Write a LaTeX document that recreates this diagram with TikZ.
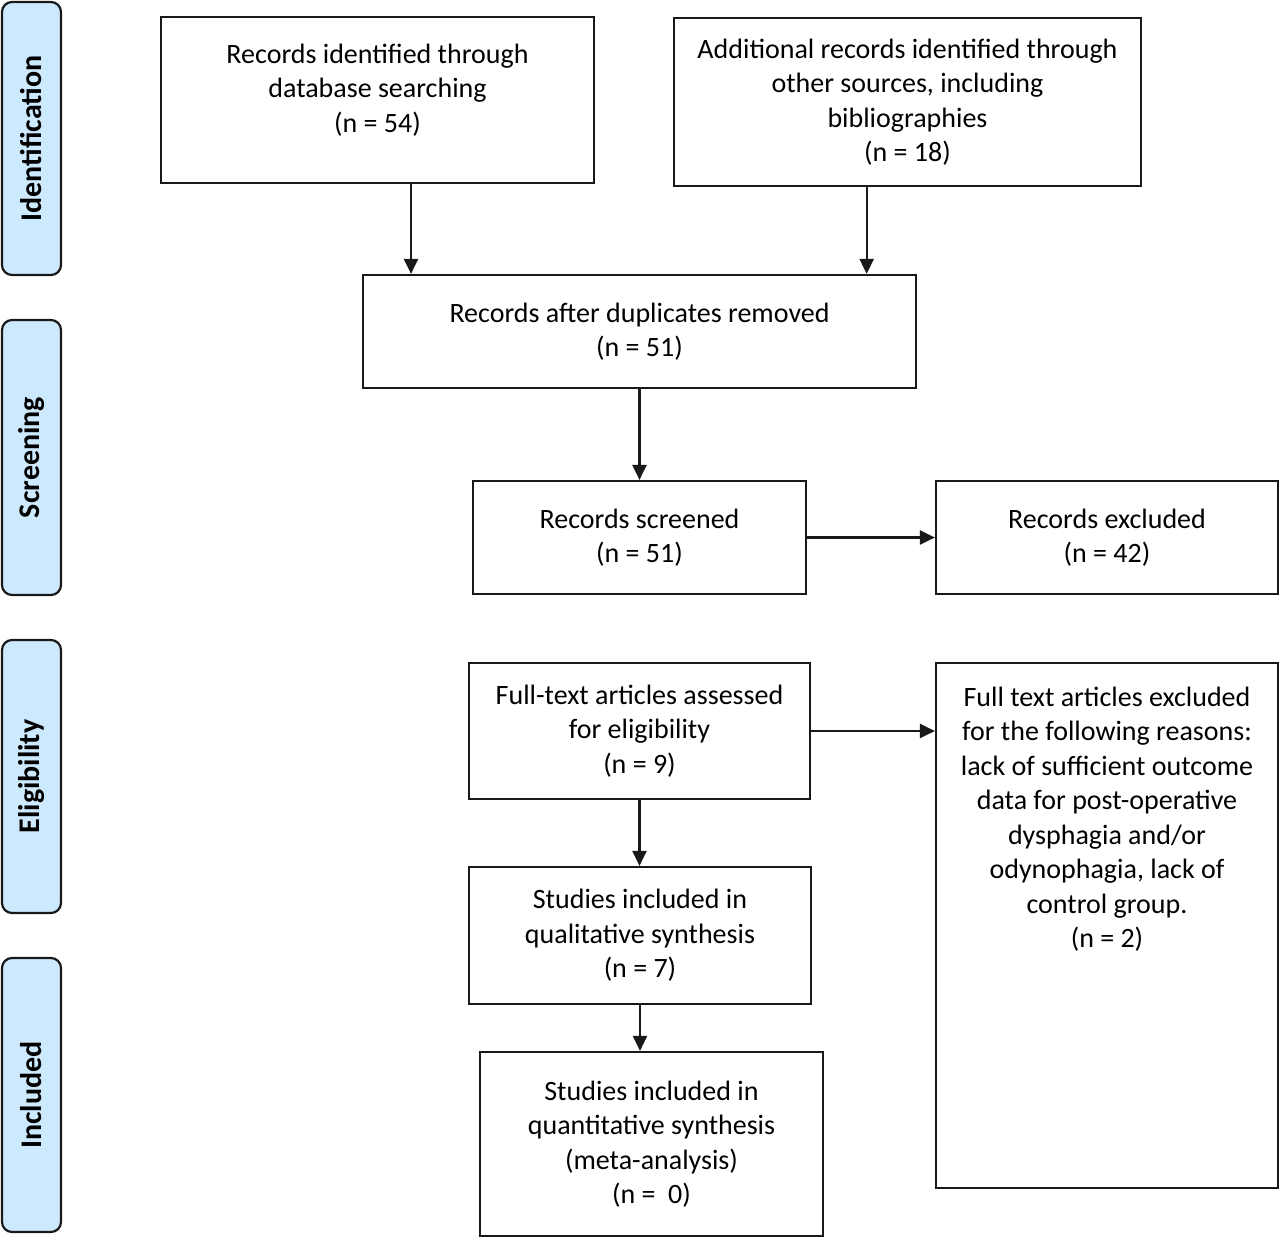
\documentclass[tikz,border=0pt]{standalone}
\usepackage{fontspec}
\setmainfont{Carlito}
\usetikzlibrary{arrows.meta,calc}
\definecolor{stageblue}{RGB}{205,233,253}
\definecolor{linegray}{RGB}{25,25,25}
\begin{document}
\begin{tikzpicture}[x=1pt,y=-1pt,
  box/.style={draw=linegray, line width=2.2pt, fill=white, inner sep=0pt, align=center,
    font=\fontsize{28}{34.5}\selectfont},
  txt/.style={inner sep=0pt, align=center, font=\fontsize{28}{34.5}\selectfont},
  stage/.style={draw=linegray, line width=2.2pt, fill=stageblue, rounded corners=10pt,
    rotate=90, inner sep=0pt, minimum height=59pt, font=\fontsize{30}{34}\selectfont\bfseries},
  arr/.style={draw=linegray, line width=2.2pt, -{Triangle[length=15pt,width=14pt]}}]
\useasboundingbox (0,0) rectangle (1280,1237);

% stage labels
\node[stage, minimum width=273pt] (s1) at (31.5,138.5) {Identification};
\node[stage, minimum width=275pt] (s2) at (31.5,457.5) {Screening};
\node[stage, minimum width=273pt] (s3) at (31.5,776.5) {Eligibility};
\node[stage, minimum width=274pt] (s4) at (31.5,1095) {Included};

% boxes
\node[box, minimum width=433pt, minimum height=166pt] (A) at (377.5,100) {};
\node[txt] (At) at (377.5,90) {Records identified through\\database searching\\(n = 54)};
\node[box, minimum width=467pt, minimum height=168pt] (B) at (907.5,102)
  {Additional records identified through\\other sources, including\\bibliographies\\(n = 18)};
\node[box, minimum width=553pt, minimum height=113pt] (C) at (639.5,331.5)
  {Records after duplicates removed\\(n = 51)};
\node[box, minimum width=333pt, minimum height=113pt] (D) at (639.5,537.5)
  {Records screened\\(n = 51)};
\node[box, minimum width=342pt, minimum height=113pt] (E) at (1107,537.5)
  {Records excluded\\(n = 42)};
\node[box, minimum width=341pt, minimum height=136pt] (F) at (639.5,731)
  {Full-text articles assessed\\for eligibility\\(n = 9)};
\node[box, minimum width=342pt, minimum height=525pt] (G) at (1107,925.5) {};
\node[txt] (Gt) at (1107,819) {Full text articles excluded\\for the following reasons:\\lack of sufficient outcome\\data for post-operative\\dysphagia and/or\\odynophagia, lack of\\control group.\\(n = 2)};
\node[box, minimum width=342pt, minimum height=137pt] (H) at (640,935.5)
  {Studies included in\\qualitative synthesis\\(n = 7)};
\node[box, minimum width=343pt, minimum height=184pt] (I) at (651.5,1144)
  {Studies included in\\quantitative synthesis\\(meta-analysis)\\(n = \ 0)};

% connectors
\coordinate (a1) at ($(A.south west)!0.577!(A.south east)$);
\coordinate (b1) at ($(B.south west)!0.413!(B.south east)$);
\draw[arr] (a1) -- (a1 |- C.north);
\draw[arr] (b1) -- (b1 |- C.north);
\draw[arr] (C.south) -- (C.south |- D.north);
\draw[arr] (D.east) -- (D.east -| E.west);
\draw[arr] (F.east) -- (F.east -| G.west);
\draw[arr] (F.south) -- (F.south |- H.north);
\draw[arr] (H.south) -- (H.south |- I.north);
\end{tikzpicture}
\end{document}
